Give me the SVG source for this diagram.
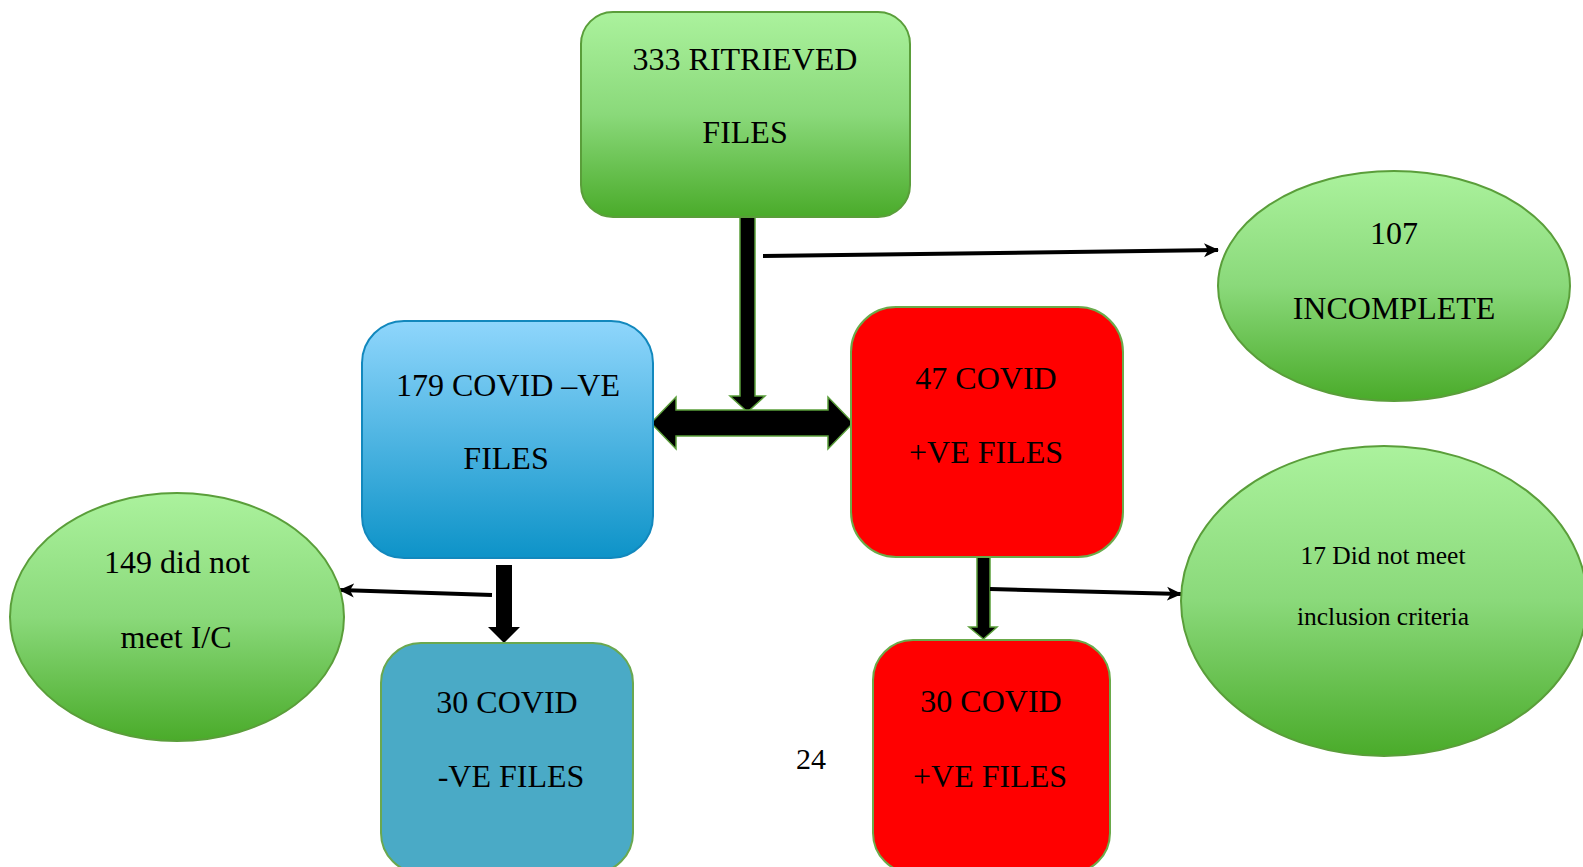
<svg xmlns="http://www.w3.org/2000/svg" width="1583" height="867" viewBox="0 0 1583 867">
<defs>
<linearGradient id="gGreen" x1="0" y1="0" x2="0" y2="1">
<stop offset="0" stop-color="#abf29d"/>
<stop offset="0.5" stop-color="#8ad97a"/>
<stop offset="1" stop-color="#4aab2a"/>
</linearGradient>
<linearGradient id="gBlue" x1="0" y1="0" x2="0" y2="1">
<stop offset="0" stop-color="#8fd6fc"/>
<stop offset="1" stop-color="#0d93c8"/>
</linearGradient>
<marker id="ah" markerUnits="userSpaceOnUse" markerWidth="16" markerHeight="16" viewBox="0 0 16 16" refX="14" refY="8" orient="auto">
<path d="M0,1 L15,8 L0,15 L4,8 z" fill="#000"/>
</marker>
</defs>
<style>
text{font-family:"Liberation Serif","Times New Roman",serif;fill:#000;text-anchor:middle;font-size:32px}
.small{font-size:25.5px}
.gnode{fill:url(#gGreen);stroke:#5a9e3a;stroke-width:2}
.line{stroke:#000;stroke-width:4;fill:none;marker-end:url(#ah)}
.block{fill:#000;stroke:#5a9e3a;stroke-width:1.5}
</style>
<rect width="1583" height="867" fill="#fff"/>

<g id="connectors">
<polygon class="block" points="740,217 755,217 755,396 765,396 747.5,412 730,396 740,396"/>
<line class="line" x1="763" y1="256" x2="1218" y2="250"/>
<polygon class="block" points="651,423 676,397 676,410 828,410 828,397 853,423 828,449 828,436 676,436 676,449"/>
<polygon fill="#000" points="496,565 512,565 512,627 520,627 504,643 488,627 496,627"/>
<line class="line" x1="492" y1="595" x2="340" y2="590"/>
<polygon class="block" points="977,555 990,555 990,627 997,627 983.5,639 969,627 977,627"/>
<line class="line" x1="990" y1="589" x2="1181" y2="594"/>
</g>

<g id="n333">
<rect class="gnode" x="581" y="12" width="329" height="205" rx="32"/>
<text x="745" y="70">333 RITRIEVED</text>
<text x="745" y="143">FILES</text>
</g>

<g id="n107">
<ellipse class="gnode" cx="1394" cy="286" rx="176" ry="115"/>
<text x="1394" y="244">107</text>
<text x="1394" y="319">INCOMPLETE</text>
</g>

<g id="n179">
<rect x="362" y="321" width="291" height="237" rx="42" fill="url(#gBlue)" stroke="#1288bd" stroke-width="2"/>
<text x="508" y="396">179 COVID –VE</text>
<text x="506" y="469">FILES</text>
</g>

<g id="n47">
<rect x="851" y="307" width="272" height="250" rx="45" fill="#ff0000" stroke="#6aaa4a" stroke-width="2"/>
<text x="986" y="389">47 COVID</text>
<text x="986" y="463">+VE FILES</text>
</g>

<g id="n149">
<ellipse class="gnode" cx="177" cy="617" rx="167" ry="124"/>
<text x="177" y="573">149 did not</text>
<text x="176" y="648">meet I/C</text>
</g>

<g id="n17">
<ellipse class="gnode" cx="1384" cy="601" rx="203" ry="155"/>
<text class="small" x="1383" y="564">17 Did not meet</text>
<text class="small" x="1383" y="625">inclusion criteria</text>
</g>

<g id="n30neg">
<rect x="381" y="643" width="252" height="230" rx="40" fill="#4aaac6" stroke="#6aa84f" stroke-width="2"/>
<text x="507" y="713">30 COVID</text>
<text x="511" y="787">-VE FILES</text>
</g>

<g id="n30pos">
<rect x="873" y="640" width="237" height="233" rx="40" fill="#ff0000" stroke="#6aaa4a" stroke-width="2"/>
<text x="991" y="712">30 COVID</text>
<text x="990" y="787">+VE FILES</text>
</g>

<text x="811" y="769" style="font-size:30px">24</text>
</svg>
